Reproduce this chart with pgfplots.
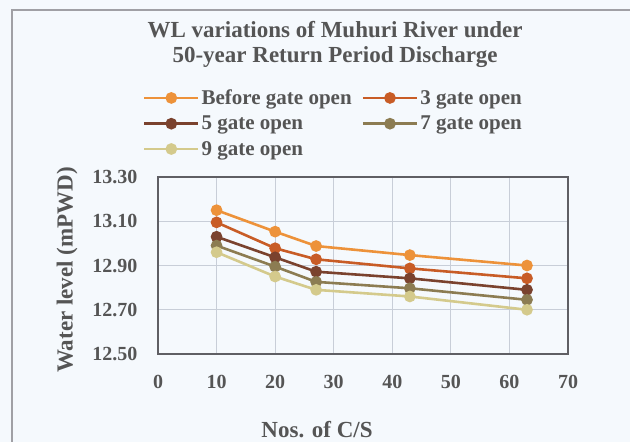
\documentclass[border=0pt]{standalone}
\usepackage{pgfplots}
\pgfplotsset{compat=1.18}
\usepackage{fontspec}
\setmainfont{Liberation Serif}
\definecolor{bg}{RGB}{245,249,253}
\definecolor{txt}{RGB}{85,85,85}
\definecolor{gridc}{RGB}{200,206,216}
\definecolor{framec}{RGB}{95,95,100}
\definecolor{cA}{RGB}{237,146,58}
\definecolor{cB}{RGB}{200,92,38}
\definecolor{cC}{RGB}{122,66,46}
\definecolor{cD}{RGB}{140,124,82}
\definecolor{cE}{RGB}{212,202,140}
\begin{document}
\begin{tikzpicture}
\useasboundingbox (0,0) rectangle (630bp,442bp);
\fill[bg] (0,0) rectangle (630bp,442bp);
\draw[color={rgb,255:red,160;green,160;blue,165}, line width=1.2bp] (12bp,0)--(12bp,432bp)--(630bp,432bp);
\begin{axis}[
  at={(158bp,88bp)}, anchor=south west,
  width=410bp, height=177bp, scale only axis,
  xmin=0, xmax=70, ymin=12.5, ymax=13.3,
  xtick={0,10,...,70},
  ytick={12.5,12.7,12.9,13.1,13.3},
  yticklabel style={/pgf/number format/fixed, /pgf/number format/precision=2, /pgf/number format/fixed zerofill},
  /pgf/number format/assume math mode=true,
  tick label style={font=\fontsize{20bp}{24bp}\selectfont\bfseries, text=txt},
  xticklabel style={yshift=-18bp},
  yticklabel style={xshift=-17bp},
  major tick length=0pt,
  grid=major,
  major grid style={gridc, line width=1.2bp},
  axis line style={framec, line width=1.6bp},
  axis background/.style={fill=bg},
  title={WL variations of Muhuri River under\\50-year Return Period Discharge},
  title style={align=center, font=\fontsize{23bp}{25bp}\selectfont\bfseries, text=txt, at={(axis description cs:0.432,1.715)}, anchor=center},
  xlabel={Nos. of C/S},
  xlabel style={font=\fontsize{23bp}{26bp}\selectfont\bfseries, text=txt, at={(axis description cs:0.388,-0.429)}, anchor=center},
  ylabel={Water level (mPWD)},
  ylabel style={font=\fontsize{23bp}{26bp}\selectfont\bfseries, text=txt, at={(axis description cs:-0.222,0.475)}, anchor=center},
  legend columns=2,
  legend cell align=left,
  legend style={at={(axis description cs:-0.037,1.505)}, anchor=north west, draw=none, fill=none,
    font=\fontsize{21bp}{25bp}\selectfont\bfseries, text=txt, /tikz/every even column/.append style={column sep=8bp},
    inner sep=0pt, row sep=6bp},
  legend image code/.code={\draw[mark repeat=2, mark phase=2] plot coordinates {(0bp,0bp) (27bp,0bp) (54bp,0bp)};},
  every axis plot/.append style={line width=2.6bp, mark=*, mark size=4.5bp},
]
\addplot[cA, mark options={fill=cA}] coordinates {(10,13.150) (20,13.053) (27,12.988) (43,12.947) (63,12.900)};
\addlegendentry{Before gate open}
\addplot[cB, mark options={fill=cB}] coordinates {(10,13.095) (20,12.978) (27,12.928) (43,12.887) (63,12.842)};
\addlegendentry{3 gate open}
\addplot[cC, mark options={fill=cC}] coordinates {(10,13.030) (20,12.937) (27,12.872) (43,12.842) (63,12.790)};
\addlegendentry{5 gate open}
\addplot[cD, mark options={fill=cD}] coordinates {(10,12.990) (20,12.895) (27,12.826) (43,12.797) (63,12.745)};
\addlegendentry{7 gate open}
\addplot[cE, mark options={fill=cE}] coordinates {(10,12.960) (20,12.850) (27,12.790) (43,12.760) (63,12.700)};
\addlegendentry{9 gate open}
\end{axis}
\end{tikzpicture}
\end{document}
